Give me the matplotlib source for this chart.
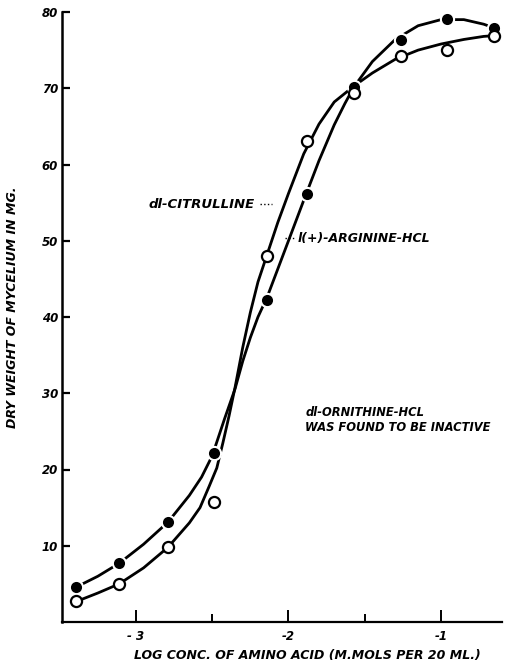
import numpy as np
import matplotlib
matplotlib.use("Agg")
import matplotlib.pyplot as plt

# measured points
log_conc = [-3.39, -3.11, -2.79, -2.49, -2.14, -1.88, -1.57, -1.26, -0.96, -0.65]
arginine = [4.6, 7.7, 13.1, 22.2, 42.2, 56.1, 70.1, 76.3, 79.1, 77.9]
citrulline = [2.7, 5.0, 9.8, 15.8, 48.0, 63.1, 69.4, 74.2, 75.0, 76.9]

# hand-drawn curves
arg_curve_x = [-3.39, -3.25, -3.11, -2.95, -2.79, -2.65, -2.57, -2.50, -2.42, -2.35,
               -2.30, -2.25, -2.20, -2.14, -2.07, -2.00, -1.90, -1.80, -1.70, -1.63,
               -1.57, -1.45, -1.30, -1.15, -1.00, -0.85, -0.72, -0.65]
arg_curve_y = [4.6, 6.0, 7.7, 10.2, 13.1, 16.6, 19.0, 21.8, 26.6, 30.6,
               34.2, 37.3, 40.0, 42.6, 46.3, 50.0, 55.3, 60.5, 65.2, 68.0,
               70.2, 73.5, 76.4, 78.2, 79.0, 79.0, 78.4, 77.9]
cit_curve_x = [-3.39, -3.25, -3.11, -2.95, -2.79, -2.65, -2.58, -2.52, -2.47, -2.43,
               -2.39, -2.35, -2.30, -2.25, -2.20, -2.14, -2.07, -2.00, -1.90, -1.80,
               -1.70, -1.57, -1.45, -1.30, -1.15, -1.00, -0.85, -0.72, -0.65]
cit_curve_y = [2.7, 3.8, 5.0, 7.1, 9.8, 13.0, 15.0, 17.8, 20.2, 23.5,
               27.0, 30.8, 36.0, 40.6, 44.6, 48.2, 52.4, 56.2, 61.4, 65.3,
               68.2, 70.3, 72.0, 73.8, 75.0, 75.8, 76.4, 76.8, 76.9]

y_ticks = [10, 20, 30, 40, 50, 60, 70, 80]
x_major = [-3, -2, -1]
x_minor = [-2.5, -1.5]
x_labels = ["- 3", "-2", "-1"]

font = dict(family="DejaVu Sans", weight="bold", style="italic")

fig = plt.figure(figsize=(5.06, 6.67), dpi=100)
ax = fig.add_axes([62 / 506, 1 - 622 / 667, 440 / 506, 610 / 667])

ax.plot(arg_curve_x, arg_curve_y, color="black", lw=2.0, zorder=2)
ax.plot(cit_curve_x, cit_curve_y, color="black", lw=2.0, zorder=2)

# white halo so the lines stop short of the dots
ax.plot(log_conc, arginine, "o", ms=11, color="white", mew=0, zorder=3)
ax.plot(log_conc, arginine, "o", ms=8, color="black", mew=0, zorder=4)
ax.plot(log_conc, citrulline, "o", ms=8, mfc="white", mec="black", mew=1.6, zorder=5)

ax.set_xlim(-3.485, -0.60)
ax.set_ylim(0, 80)

for s in ["top", "right"]:
    ax.spines[s].set_visible(False)
ax.spines["left"].set_linewidth(1.8)
ax.spines["bottom"].set_linewidth(1.6)

ax.set_yticks(y_ticks)
ax.set_yticklabels([str(v) for v in y_ticks], fontsize=8.5, **font)
ax.set_xticks(x_major)
ax.set_xticklabels(x_labels, fontsize=8.5, **font)
ax.set_xticks(x_minor, minor=True)
ax.tick_params(axis="y", direction="in", length=6, width=1.6, pad=3)
ax.tick_params(axis="x", which="major", direction="in", length=9, width=1.4, pad=6)
ax.tick_params(axis="x", which="minor", direction="in", length=6, width=1.4)

fig.text(307 / 506, 1 - 656 / 667, "LOG CONC. OF AMINO ACID (M.MOLS PER 20 ML.)",
         ha="center", va="center", fontsize=9, **font)
fig.text(13 / 506, 1 - 307 / 667, "DRY WEIGHT OF MYCELIUM IN MG.",
         ha="center", va="center", rotation=90, fontsize=9, **font)

ax.text(-2.92, 54.7, "dl-CITRULLINE", fontsize=9.5, va="center", ha="left", **font)
ax.plot([-2.19, -2.11], [54.8, 54.8], ls=":", color="black", lw=1.0)
ax.plot([-2.02, -1.95], [50.3, 50.3], ls=":", color="black", lw=1.0)
ax.text(-1.94, 50.3, "l(+)-ARGININE-HCL", fontsize=9, va="center", ha="left", **font)

ax.text(-1.89, 26.5, "dl-ORNITHINE-HCL\nWAS FOUND TO BE INACTIVE", fontsize=8.3,
        va="center", ha="left", linespacing=1.25, **font)

fig.savefig("out.png", dpi=100)
